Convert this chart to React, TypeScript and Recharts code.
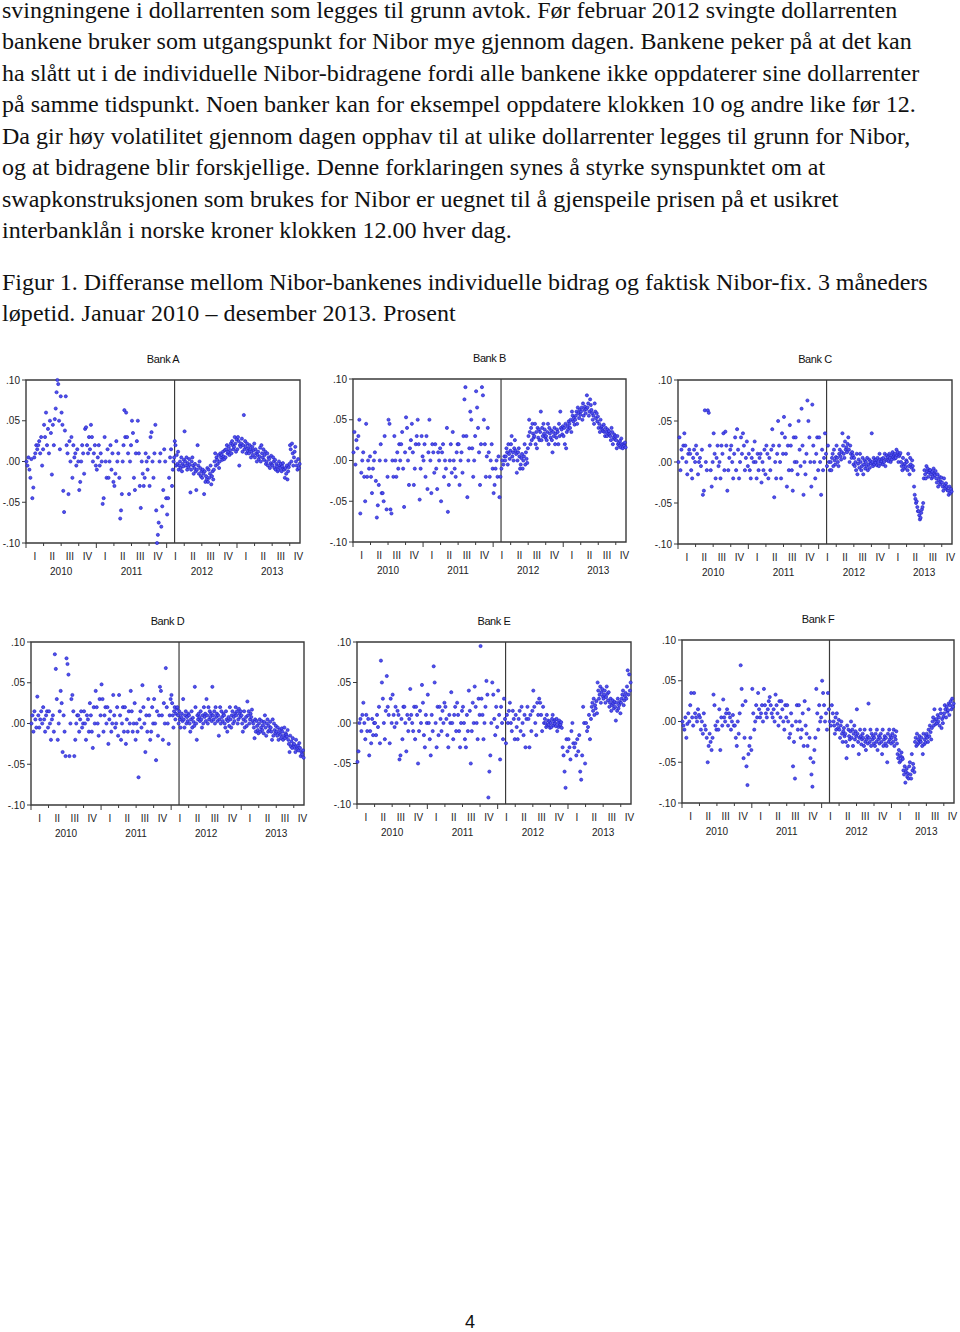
import React from "react";
import { ScatterChart, Scatter, XAxis, YAxis, ReferenceLine, ReferenceArea } from "recharts";

const BODY_LINES = [
  "svingningene i dollarrenten som legges til grunn avtok. Før februar 2012 svingte dollarrenten",
  "bankene bruker som utgangspunkt for Nibor mye gjennom dagen. Bankene peker på at det kan",
  "ha slått ut i de individuelle Nibor-bidragene fordi alle bankene ikke oppdaterer sine dollarrenter",
  "på samme tidspunkt. Noen banker kan for eksempel oppdatere klokken 10 og andre like før 12.",
  "Da gir høy volatilitet gjennom dagen opphav til at ulike dollarrenter legges til grunn for Nibor,",
  "og at bidragene blir forskjellige. Denne forklaringen synes å styrke synspunktet om at",
  "swapkonstruksjonen som brukes for Nibor er uegnet til å gjenspeile prisen på et usikret",
  "interbanklån i norske kroner klokken 12.00 hver dag.",
];
const CAPTION_LINES = [
  "Figur 1. Differanse mellom Nibor-bankenes individuelle bidrag og faktisk Nibor-fix. 3 måneders",
  "løpetid. Januar 2010 – desember 2013. Prosent",
];
const CAPTION_SPACING = [-0.03, 0.1];

const QUARTERS = ["I", "II", "III", "IV"];
const YEARS = ["2010", "2011", "2012", "2013"];
const Y_TICKS = [-0.1, -0.05, 0, 0.05, 0.1];
const Q_BOUNDS = [0, 3, 6, 9, 12, 15, 18, 21, 24, 27, 30, 33, 36, 39, 42, 45];
const Q_MIDS = [1.5, 4.5, 7.5, 10.5, 13.5, 16.5, 19.5, 22.5, 25.5, 28.5, 31.5, 34.5, 37.5, 40.5, 43.5, 46.5];
const YEAR_MIDS = [6, 18, 30, 42];
const X_MAX = 46.75; // months from jan 2010 (data ends late nov 2013)
const BREAK_X = 25.35; // feb 2012

// differences in thousandths of a percentage point, one list per month jan 2010 .. nov 2013
const bankA = [
  [0,-5,5,-10,-20,3],[-45,-32,5,10,20,15],[20,25,10,30,-5,15],[45,30,60,20,40,10],
  [50,35,-16,45,20,52],[65,85,100,95,50,15,80],[60,45,-36,-62,38,80,20],[10,-40,25,0,30,-20],
  [20,5,10,-5,15,0],[-35,-25,0,20,10,-15],[40,42,20,10,30,15],[45,30,0,10,20,-5],
  [-10,5,20,-5,10,0],[-52,-45,30,0,-20,15],[-20,0,20,-10,10,-25],[-30,-15,25,0,10,-20],
  [-70,-60,-40,0,20,63,30],[60,30,10,-40,0,20],[50,35,-20,-35,10,25],[50,10,-30,-57,0,-15],
  [-30,-20,10,0,-10,5],[-30,30,36,0,-20,10],[45,-60,-100,-90,-75,0,10],[-80,-55,-35,15,0,-45],
  [-65,-45,-20,5,15,-30],[-10,0,5,25,20,-5,8,-3,12],[-10,-5,0,-8,5,-12,-3,-6,2],[37,0,-5,5,-10,-2,-7,3,-4],
  [-38,-10,0,5,-5,-15,-8,-3,-12],[-35,-10,20,-5,-15,0,-8,-18,-12],[-20,-10,-15,-40,-12,-25,-18,-22,-8],[-25,-10,-20,-15,-5,-28,-18,-12,-22],
  [-10,0,10,-5,5,2,-3,8,-8],[0,10,5,8,2,12,6,3,14],[5,15,20,10,12,18,8,14,22],[10,25,20,15,18,30,22,12,27],
  [15,30,25,-5,20,18,22,28,12],[20,57,15,25,18,10,22,13,16],[10,20,15,5,12,18,8,14,22],[5,15,10,0,8,12,3,6,17],
  [0,20,10,5,15,2,8,12,-3],[0,10,-5,5,3,-8,-2,7,-4],[-5,5,0,-8,2,-10,-3,-6,-12],[-10,0,-5,-8,-3,-12,-6,-2,-9],
  [-10,-20,-8,-15,-5,-22,-12,-7,-3],[20,15,0,22,10,-5,5,12,18],[0,-5,-10,3,-8,-3],
];
const bankB = [
  [10,35,-5,25,15,30],[50,-65,-15,0,10,-20],[-50,45,-20,0,-10,5],[-20,-40,-10,0,10,-25],
  [-70,-55,-30,0,20,-40],[-40,-50,30,0,-60,-20],[50,45,-60,-65,0,-20],[30,0,-20,10,-10,20],
  [0,20,35,-10,-57,10],[53,40,0,-30,15,25],[45,10,-30,-10,20,30],[50,20,-48,-10,30,5],
  [0,20,-20,30,-35,10],[50,0,-40,20,10,-15],[20,-10,-35,10,0,15],[-50,10,20,-20,0,-10],
  [40,-63,-30,0,20,-15],[35,0,-10,-20,10,20],[20,-30,0,10,-15,30],[75,90,30,-45,0,15],
  [60,50,15,-20,0,30],[85,65,40,10,-30,20],[90,80,50,20,-20,5],[40,10,-20,0,20,-10],
  [-40,-30,-10,0,-20,5],[-45,-20,-10,0,-5,5],[0,5,15,10,-5,20,8,2,12],[20,30,5,10,0,15,25,12,8],
  [-15,0,10,15,5,-10,-5,3,8],[-10,0,5,20,-5,10,2,-3,15],[30,50,35,20,40,25,45,33,28],[30,45,20,35,15,40,28,38,25],
  [35,60,25,40,30,45,33,38,28],[30,25,35,45,20,40,33,28,37],[25,10,35,30,40,20,33,28,38],[35,20,45,30,60,40,38,32,42],
  [30,40,20,45,15,35,42,38,48],[45,40,50,35,60,55,48,52,44],[50,55,60,45,65,58,52,62,56],[60,65,50,70,55,62,66,58,63],
  [80,65,70,55,60,75,68,62,58],[50,55,45,70,60,52,58,48,54],[40,45,35,50,40,42,38,36,44],[35,30,40,35,30,38,33,36,32],
  [30,25,40,35,20,28,32,26,30],[25,15,30,20,22,18,24,16,27],[20,15,20,18,22,16],
];
const bankC = [
  [0,30,-10,15,5,20],[35,20,0,-15,10,15],[10,-10,-20,5,15,0],[20,10,-15,0,5,-5],
  [15,-40,-35,63,0,-10],[63,60,20,-10,-30,0],[35,10,-20,5,20,-5],[0,-20,20,10,35,-10],
  [37,20,-35,-10,5,15],[20,0,-20,10,30,-10],[40,15,-20,0,30,10],[35,20,-10,5,25,-5],
  [10,-10,-20,5,15,0],[25,0,-20,10,-10,5],[10,-25,0,-10,15,-15],[20,10,-20,5,-10,15],
  [40,20,-43,0,-20,10],[50,20,0,-20,35,10],[55,30,10,-30,20,-10],[45,20,-10,-35,30,0],
  [30,0,-15,50,15,-5],[65,20,-40,0,-15,10],[75,50,30,0,-30,70],[20,0,-20,10,30,-10],
  [30,0,-40,15,-10,5],[35,10,-5,20,0,-10],[0,-10,5,10,-5,15,2,-3,6],[20,5,0,-5,10,15,7,3,12],
  [35,20,10,5,25,15,18,12,22],[30,15,0,20,10,5,12,8,-3],[5,-5,0,-10,10,-15,-2,3,-7],[10,0,-10,-5,5,-15,-3,2,-8],
  [0,-5,5,-10,-3,3,-7,1,-2],[35,0,-5,5,-3,2,-1,3,-4],[5,0,-5,10,3,-2,1,4,-3],[5,0,10,-5,3,8,2,6,1],
  [10,5,0,8,3,12,6,9,4],[10,5,15,8,12,0,7,9,11],[0,-5,-10,5,-3,-8,-2,-6,2],[0,-10,10,-5,-15,5,-3,-7,2],
  [-5,-10,-30,-40,-45,-50,-48,-55,-60],[-60,-65,-70,-68,-62,-58,-55,-50,-20],[-10,-15,-20,-5,-12,-8,-18,-13,-10],[-10,-15,-20,-12,-18,-8,-14,-16,-11],
  [-20,-25,-15,-30,-22,-18,-27,-24,-19],[-25,-30,-35,-20,-28,-32,-26,-30,-34],[-35,-40,-30,-38,-33,-36],
];
const bankD = [
  [0,10,-10,15,5,-5],[33,10,-5,5,15,0],[20,5,-10,10,15,-5],[15,0,-20,5,10,-10],
  [85,67,30,-20,0,15],[40,25,-35,10,-10,-40],[80,73,60,-40,0,30],[35,15,-40,-20,0,10],
  [10,-10,5,15,-5,0],[15,0,-20,10,5,-10],[25,10,-10,-30,20,0],[40,20,0,-15,30,10],
  [48,30,-10,10,20,0],[20,-25,5,15,-10,0],[35,10,-5,0,20,-15],[35,10,-20,0,20,-10],
  [20,-25,5,-10,15,0],[40,15,-10,0,25,-20],[0,-10,-66,5,15,-5],[47,20,0,-35,10,-10],
  [30,10,-20,-10,20,0],[30,0,-45,15,-15,10],[45,40,10,-20,25,0],[68,20,0,-25,10,30],
  [35,25,10,-5,15,20,5,12,18],[20,10,0,15,5,-5,8,12,3],[30,5,-5,10,15,0,8,3,12],[10,0,-10,5,15,-5,7,2,-3],
  [45,20,0,-20,10,5,12,8,3],[15,5,-5,10,0,20,8,12,3],[30,10,0,20,5,15,8,12,3],[45,10,5,15,0,20,8,12,3],
  [10,-15,5,20,0,15,8,3,12],[10,0,-5,15,5,-10,3,8,-3],[20,5,-5,10,15,0,8,3,12],[20,10,15,0,5,18,12,8,15],
  [10,0,-10,5,15,-5,3,8,-3],[27,10,15,0,5,12,8,17,3],[0,-5,-18,5,-10,3,-3,-8,-12],[0,5,-10,-5,3,-8,-2,-12,2],
  [10,-5,-15,0,5,-10,-3,-8,2],[-5,-10,-20,5,-15,0,-8,-12,-3],[-10,-15,-5,-20,-12,-8,-14,-18,-6],[-10,-20,-15,-5,-18,-12,-14,-16,-8],
  [-20,-25,-35,-15,-28,-22,-30,-18,-26],[-25,-30,-35,-20,-28,-32,-27,-33,-24],[-30,-40,-35,-38,-33,-42],
];
const bankE = [
  [-48,-35,0,5,-10,10],[25,0,-20,10,-10,5],[-40,-10,-25,5,-15,0],[0,-15,10,-5,20,-25],
  [77,50,30,0,-20,15],[58,20,10,-25,30,0],[35,10,-5,20,0,15],[10,-45,-40,5,-20,20],
  [20,0,-35,10,-10,5],[42,10,0,-10,20,-20],[20,10,-50,-10,15,0],[47,25,-15,-30,10,0],
  [35,0,-20,-40,10,-10],[70,50,0,-30,20,-15],[20,5,-10,15,0,25],[20,5,-15,-30,10,0],
  [38,0,-20,10,20,-10],[25,10,-10,-30,0,15],[20,0,-20,-30,10,-10],[40,15,-50,-10,25,0],
  [45,20,0,-20,30,10],[95,30,10,-20,0,20],[52,35,-92,-60,-40,0],[50,35,5,-15,20,-5],
  [40,10,-45,20,0,-20],[30,5,-25,10,0,15],[25,0,-10,15,5,-20],[10,-5,-20,5,15,-10],
  [20,0,-15,10,-30,5],[20,5,-30,10,-10,15],[40,20,0,-15,25,10],[30,25,10,-10,20,0],
  [5,0,-5,10,-3,3,-2,2,-6],[0,-5,5,10,-3,2,-1,4,-4],[5,-10,0,-5,3,-3,-2,1,-6],[-30,-40,-60,-80,-20,-35],
  [-20,-30,-45,-10,0,-25],[-30,-25,-40,-20,-35,-15],[-60,-70,-40,20,0,-50],[0,-10,-5,10,-20,5],
  [20,25,15,30,10,22,18,27,12],[50,40,30,35,45,25,38,42,33],[30,35,40,25,32,45,36,28,38],[20,25,30,15,22,28,24,18,26],
  [20,3,25,15,30,18,22,26,12],[25,30,35,40,22,28,33,37,30],[45,65,35,60,40,50],
];
const bankF = [
  [0,-5,-10,5,-20,-3],[10,0,20,35,5,-5],[35,10,5,0,15,8],[5,-10,0,-15,10,-5],
  [-10,-20,-50,-30,-15,-25],[-35,-20,33,20,-5,-10],[0,-10,15,-35,5,-5],[27,5,0,10,15,-5],
  [10,5,-10,0,8,-5],[-5,-20,-30,0,-15,10],[69,40,20,-45,-20,25],[-55,-78,-40,-30,-20,-35],
  [40,10,-10,0,20,5],[35,15,5,10,20,0],[40,20,10,5,15,25],[30,20,10,5,15,0],
  [33,20,10,-5,25,5],[25,15,0,-10,20,5],[20,0,-20,-15,10,-5],[-55,-25,-70,0,20,-10],
  [20,0,-20,-10,10,-30],[25,-5,-15,-30,15,-20],[-45,-65,-80,-50,-35,-20],[40,10,-10,20,0,5],
  [50,35,20,0,10,-10],[35,15,0,-5,20,10],[0,-5,-15,5,-10,10,-3,-8,2],[-10,-20,-5,0,-15,-25,-12,-8,-18],
  [-15,-25,-45,-5,-30,-10,-18,-22,-12],[0,-20,-10,-30,-15,-5,-22,-12,-18],[15,-15,-25,-40,-20,-10,-18,-28,-22],[-15,-20,-30,-10,-25,-35,-22,-18,-27],
  [22,-20,-25,-10,-30,-15,-22,-18,-27],[-20,-30,-15,-25,-10,-35,-22,-18,-27],[-20,-15,-25,-40,-10,-30,-22,-18,-27],[-20,-30,-50,-15,-25,-10,-22,-18,-27],
  [-20,-15,-25,-10,-30,-18,-22,-12,-27],[-40,-45,-35,-50,-42,-48,-38,-44,-46],[-60,-65,-55,-75,-62,-58,-68,-64,-70],[-55,-50,-65,-70,-40,-60,-52,-57,-62],
  [-25,-20,-30,-15,-28,-22,-26,-18,-24],[-25,-20,-30,-40,-15,-28,-22,-26,-18],[-15,-20,-25,-10,-18,-5,-13,-22,-8],[0,5,-5,15,2,-3,3,-2,8],
  [0,5,-5,15,10,-8,3,-2,6],[10,20,15,5,18,12,14,22,8],[20,25,15,28,18,22],
];

const PANELS = [
  { title: "Bank A", months: bankA, left: 26, top: 380, w: 274, h: 163 },
  { title: "Bank B", months: bankB, left: 353, top: 379, w: 273, h: 163 },
  { title: "Bank C", months: bankC, left: 678, top: 380, w: 274, h: 164 },
  { title: "Bank D", months: bankD, left: 31, top: 642, w: 273, h: 163 },
  { title: "Bank E", months: bankE, left: 357, top: 642, w: 274, h: 162 },
  { title: "Bank F", months: bankF, left: 682, top: 640, w: 272, h: 163 },
];

const SANS = "'Liberation Sans', Arial, sans-serif";
const SERIF = "'Liberation Serif', 'Times New Roman', serif";
const FRAME = "#3a3a3a";

// spread each month's observations across the month
function toPoints(months: number[][]) {
  const pts: { x: number; y: number }[] = [];
  months.forEach((vals, m) => {
    const span = m === months.length - 1 ? X_MAX - m : 1;
    vals.forEach((v, j) => pts.push({ x: m + ((j + 0.5) / vals.length) * span, y: v / 1000 }));
  });
  return pts;
}

const fmtY = (v: number) => {
  if (v === 0) return ".00";
  const s = String(Math.round(Math.abs(v) * 100)).padStart(2, "0");
  return (v < 0 ? "-." : ".") + s;
};

const TickMark = (p: any) => {
  const len = p.payload.value % 12 === 0 ? 5 : 3;
  return <line x1={p.x} x2={p.x} y1={p.y} y2={p.y + len} stroke={FRAME} strokeWidth={1} />;
};

const Dot = (p: any) => (
  <circle cx={p.cx} cy={p.cy} r={1.6} fill="#5050f0" stroke="#1c1cc0" strokeWidth={0.6} />
);
const NoDot = () => <g />;

const tickStyle = { fontSize: 10, fontFamily: SANS, fill: "#222" };

function BankChart({ title, months, left, top, w, h }: any) {
  const data = toPoints(months);
  const W = 30 + w + 6;
  const H = 8 + h + 5 + 15 + 16;
  return (
    <div style={{ position: "absolute", left: left - 30, top: top - 8, width: W, height: H }}>
      <div
        style={{
          position: "absolute", left: 30, width: w, top: -19, height: 12, lineHeight: "12px",
          textAlign: "center", fontFamily: SANS, fontSize: 11, letterSpacing: -0.4, color: "#111",
        }}
      >
        {title}
      </div>
      <ScatterChart width={W} height={H} margin={{ top: 8, right: 6, bottom: 0, left: 0 }}>
        <XAxis xAxisId="m" dataKey="x" type="number" domain={[0, X_MAX]} ticks={Q_BOUNDS} interval={0}
          height={5} tickSize={0} tickMargin={0} tickLine={false} axisLine={false} tick={TickMark} />
        <XAxis xAxisId="q" dataKey="x" type="number" domain={[0, X_MAX]} ticks={Q_MIDS} interval={0}
          height={15} tickSize={0} tickMargin={5} tickLine={false} axisLine={false} tick={tickStyle}
          tickFormatter={(v: number) => QUARTERS[Math.floor(v / 3) % 4]} />
        <XAxis xAxisId="y" dataKey="x" type="number" domain={[0, X_MAX]} ticks={YEAR_MIDS} interval={0}
          height={16} tickSize={0} tickMargin={5} tickLine={false} axisLine={false} tick={tickStyle}
          tickFormatter={(v: number) => YEARS[Math.floor(v / 12)]} />
        <YAxis dataKey="y" type="number" domain={[-0.1, 0.1]} ticks={Y_TICKS} interval={0} width={30}
          tickSize={4} tickMargin={2} axisLine={false} tickLine={{ stroke: FRAME }} tick={tickStyle}
          tickFormatter={fmtY} />
        <ReferenceArea xAxisId="m" x1={0} x2={X_MAX} y1={-0.1} y2={0.1} fill="none" fillOpacity={0}
          stroke={FRAME} strokeWidth={1.4} />
        <ReferenceLine xAxisId="m" x={BREAK_X} stroke={FRAME} strokeWidth={1.2} />
        <Scatter xAxisId="q" data={data} isAnimationActive={false} shape={NoDot} />
        <Scatter xAxisId="y" data={data} isAnimationActive={false} shape={NoDot} />
        <Scatter xAxisId="m" data={data} isAnimationActive={false} shape={Dot} />
      </ScatterChart>
    </div>
  );
}

export default function App() {
  const textLine = (t: string, baseline: number, extra: any = {}) => (
    <div
      key={t}
      style={{
        position: "absolute", left: 2, top: baseline - 17.1, fontFamily: SERIF, fontSize: 24,
        lineHeight: "18px", whiteSpace: "nowrap", color: "#111", ...extra,
      }}
    >
      {t}
    </div>
  );
  return (
    <div style={{ position: "absolute", left: 0, top: 0, width: 960, height: 1332, background: "#fff" }}>
      {BODY_LINES.map((t, i) => textLine(t, 18 + i * 31.5))}
      {CAPTION_LINES.map((t, i) => textLine(t, 290 + i * 31, { letterSpacing: CAPTION_SPACING[i] }))}
      {PANELS.map((p) => (
        <BankChart key={p.title} {...p} />
      ))}
      <div style={{ position: "absolute", left: 460, width: 20, top: 1313, textAlign: "center",
        fontFamily: SANS, fontSize: 18, lineHeight: "18px", color: "#111" }}>
        4
      </div>
    </div>
  );
}
